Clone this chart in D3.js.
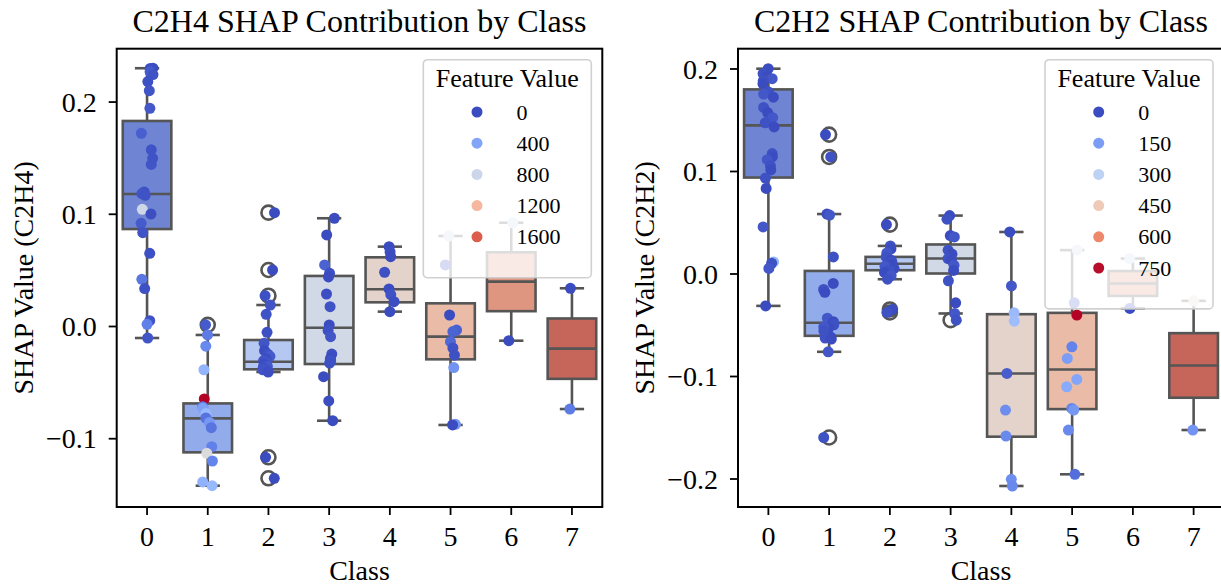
<!DOCTYPE html>
<html>
<head>
<meta charset="utf-8">
<script src="https://cdn.jsdelivr.net/npm/d3@7"></script>
<style>
  body { margin: 0; background: #fff; }
  text { font-family: "Liberation Serif", "Times New Roman", serif; fill: #000; }
</style>
</head>
<body>
<svg id="chart" width="1221" height="587"></svg>
<script>
// ---------- data ----------
const classes = ["0", "1", "2", "3", "4", "5", "6", "7"];

// C2H4: SHAP values per class and the matching C2H4 feature value of each sample
const c2h4Shap = [
  [0.2297, 0.2295, 0.2285, 0.2265, 0.224, 0.2178, 0.2097, 0.194, 0.1717, 0.157, 0.1494, 0.144, 0.1195, 0.118, 0.1165, 0.104, 0.0998, 0.0915, 0.0832, 0.0648, 0.0416, 0.0333, 0.0047, 0.0015, -0.0107],
  [0.001, -0.008, -0.018, -0.039, -0.065, -0.072, -0.0734, -0.078, -0.082, -0.086, -0.0906, -0.1075, -0.1135, -0.1203, -0.139, -0.1423],
  [0.101, 0.0499, 0.027, 0.0187, 0.0104, -0.0056, -0.0154, -0.022, -0.025, -0.027, -0.029, -0.031, -0.032, -0.034, -0.036, -0.037, -0.039, -0.041, -0.117, -0.1357],
  [0.096, 0.0811, 0.0544, 0.047, 0.0437, 0.0285, 0.0172, 0.0009, -0.004, -0.0095, -0.025, -0.029, -0.031, -0.033, -0.0452, -0.0668, -0.0844],
  [0.0707, 0.066, 0.0618, 0.0479, 0.033, 0.028, 0.0217, 0.0128],
  [0.0802, 0.0544, 0.0098, -0.0036, -0.005, -0.014, -0.0196, -0.026, -0.0371, -0.0876, -0.0882],
  [0.092, -0.0131],
  [0.0336, -0.074]
];
const c2h4Feature = [
  [0, 20, 10, 60, 30, 20, 40, 50, 80, 30, 30, 40, 20, 40, 30, 820, 10, 60, 30, 20, 180, 20, 30, 220, 40],
  [60, 200, 260, 480, 1820, 200, 380, 520, 160, 330, 170, 220, 900, 240, 470, 520],
  [0, 0, 20, 40, 30, 20, 40, 0, 20, 60, 10, 30, 40, 0, 50, 20, 30, 10, 0, 0],
  [0, 0, 100, 20, 0, 10, 30, 0, 20, 40, 10, 0, 30, 20, 0, 10, 0],
  [0, 10, 0, 20, 0, 30, 10, 0],
  [800, 0, 0, 80, 100, 120, 30, 20, 310, 330, 0],
  [780, 0],
  [0, 200]
];
const c2h4Q1 = [0.0864, -0.1126, -0.0386, -0.0339, 0.0211, -0.0297, 0.0132, -0.0471];
const c2h4Median = [0.1176, -0.0823, -0.0318, -0.0015, 0.0327, -0.0095, 0.0395, -0.0202];
const c2h4Q3 = [0.1827, -0.069, -0.0125, 0.0446, 0.0612, 0.0202, 0.0657, 0.0067];
const c2h4WhiskerLow = [-0.0107, -0.1423, -0.041, -0.0844, 0.0128, -0.0882, -0.0131, -0.074];
const c2h4WhiskerHigh = [0.2297, -0.008, 0.0187, 0.096, 0.0707, 0.0802, 0.092, 0.0336];
const c2h4Ticks = [-0.1, 0.0, 0.1, 0.2];
const c2h4LegendValues = [0, 400, 800, 1200, 1600];
const c2h4FeatureMax = 1820;

// C2H2: SHAP values per class and the matching C2H2 feature value of each sample
const c2h2Shap = [
  [0.1998, 0.195, 0.192, 0.19, 0.188, 0.185, 0.177, 0.175, 0.172, 0.162, 0.157, 0.152, 0.147, 0.143, 0.117, 0.114, 0.111, 0.105, 0.101, 0.093, 0.083, 0.0454, 0.0113, 0.010, 0.0049, -0.0316],
  [0.1355, 0.1137, 0.058, 0.057, 0.0162, -0.0097, -0.0155, -0.0183, -0.0436, -0.047, -0.050, -0.053, -0.052, -0.056, -0.062, -0.063, -0.064, -0.0764, -0.160],
  [0.0477, 0.0269, 0.024, 0.02, 0.016, 0.013, 0.011, 0.009, 0.007, 0.005, 0.003, 0.001, -0.002, -0.0056, -0.0351, -0.038],
  [0.0565, 0.053, 0.037, 0.0357, 0.0227, 0.019, 0.0146, 0.013, 0.008, 0.003, -0.0072, -0.0286, -0.039, -0.0455],
  [0.0405, -0.0121, -0.0384, -0.0465, -0.0975, -0.1332, -0.1586, -0.2008, -0.2073],
  [0.0228, -0.0286, -0.0406, -0.0715, -0.0829, -0.1033, -0.1105, -0.1316, -0.1332, -0.1527, -0.1959],
  [0.0146, -0.0341],
  [-0.0267, -0.1527]
];
const c2h2Feature = [
  [0, 10, 0, 20, 10, 0, 10, 20, 0, 10, 0, 20, 10, 0, 10, 0, 20, 10, 0, 10, 0, 20, 200, 10, 20, 0],
  [0, 10, 0, 20, 10, 0, 10, 0, 20, 0, 10, 0, 20, 10, 0, 10, 0, 20, 10],
  [0, 10, 0, 20, 10, 0, 10, 0, 20, 0, 10, 0, 20, 10, 0, 10],
  [0, 10, 0, 20, 10, 0, 10, 0, 20, 0, 10, 0, 20, 10],
  [0, 20, 220, 230, 30, 120, 110, 120, 110],
  [330, 30, 760, 100, 150, 170, 180, 100, 140, 110, 60],
  [320, 0],
  [390, 130]
];
const c2h2Q1 = [0.0936, -0.0608, 0.0032, 0.0, -0.1592, -0.1323, -0.0219, -0.1212];
const c2h2Median = [0.1445, -0.0481, 0.0095, 0.0146, -0.0975, -0.0936, -0.0098, -0.0897];
const c2h2Q3 = [0.1796, 0.0025, 0.0162, 0.0283, -0.0397, -0.0384, 0.0024, -0.0582];
const c2h2WhiskerLow = [-0.0316, -0.0764, -0.0056, -0.039, -0.2073, -0.1959, -0.0341, -0.1527];
const c2h2WhiskerHigh = [0.1998, 0.058, 0.0269, 0.0565, 0.0405, 0.0228, 0.0146, -0.0267];
const c2h2Ticks = [-0.2, -0.1, 0.0, 0.1, 0.2];
const c2h2LegendValues = [0, 150, 300, 450, 600, 750];
const c2h2FeatureMax = 760;

// ---------- colours ----------
const coolwarmStops = ["#3b4cc0", "#6282ea", "#8db0fe", "#b8d0f9", "#dddcdc", "#f5c4ac", "#f49a7b", "#dd604c", "#b40426"];
const coolwarm = d3.scaleLinear()
  .domain(coolwarmStops.map((_, i) => i / (coolwarmStops.length - 1)))
  .range(coolwarmStops)
  .interpolate(d3.interpolateRgb)
  .clamp(true);

function desaturate(c, p) {
  const h = d3.hsl(c);
  h.s *= p;
  return h.formatHex();
}
// one box colour per class, sampled inside the coolwarm map and softened
const boxPalette = classes.map((_, i) => desaturate(coolwarm((i + 1) / (classes.length + 1)), 0.75));
const lineColor = "#555555";
const lineWidth = 2.6;

const svg = d3.select("#chart");
const fmt = d3.format(".1f");
const tickFormat = v => fmt(v).replace("-", "\u2212");

function drawPanel(cfg) {
  const g = svg.append("g");
  const top = 48.7, bottom = 507;
  const x = d3.scaleBand().domain(classes).range([cfg.left, cfg.right]).padding(0);
  const y = d3.scaleLinear().domain(cfg.yDomain).range([bottom, top]);
  const step = x.bandwidth();
  const boxW = step * 0.8, capW = boxW * 0.5;
  const jitter = d3.randomLcg(cfg.seed);

  // boxes
  classes.forEach((c, i) => {
    const cx = x(c) + step / 2;
    const bg = g.append("g");
    bg.append("line").attr("x1", cx).attr("x2", cx)
      .attr("y1", y(cfg.q3[i])).attr("y2", y(cfg.whiskerHigh[i]))
      .attr("stroke", lineColor).attr("stroke-width", lineWidth);
    bg.append("line").attr("x1", cx).attr("x2", cx)
      .attr("y1", y(cfg.q1[i])).attr("y2", y(cfg.whiskerLow[i]))
      .attr("stroke", lineColor).attr("stroke-width", lineWidth);
    [cfg.whiskerHigh[i], cfg.whiskerLow[i]].forEach(v => {
      bg.append("line").attr("x1", cx - capW / 2).attr("x2", cx + capW / 2)
        .attr("y1", y(v)).attr("y2", y(v))
        .attr("stroke", lineColor).attr("stroke-width", lineWidth);
    });
    bg.append("rect")
      .attr("x", cx - boxW / 2).attr("width", boxW)
      .attr("y", y(cfg.q3[i])).attr("height", y(cfg.q1[i]) - y(cfg.q3[i]))
      .attr("fill", boxPalette[i]).attr("stroke", lineColor).attr("stroke-width", lineWidth);
    bg.append("line").attr("x1", cx - boxW / 2).attr("x2", cx + boxW / 2)
      .attr("y1", y(cfg.median[i])).attr("y2", y(cfg.median[i]))
      .attr("stroke", lineColor).attr("stroke-width", lineWidth);
    // fliers: samples beyond the whiskers
    cfg.shap[i].filter(v => v > cfg.whiskerHigh[i] + 1e-9 || v < cfg.whiskerLow[i] - 1e-9)
      .forEach(v => {
        bg.append("circle").attr("cx", cx).attr("cy", y(v)).attr("r", 7)
          .attr("fill", "none").attr("stroke", lineColor).attr("stroke-width", lineWidth);
      });
  });

  // strip of samples coloured by feature value
  classes.forEach((c, i) => {
    const cx = x(c) + step / 2;
    cfg.shap[i].forEach((v, j) => {
      const dx = (jitter() * 2 - 1) * 0.1 * step;
      g.append("circle")
        .attr("cx", cx + dx).attr("cy", y(v)).attr("r", 5.5)
        .attr("fill", coolwarm(cfg.feature[i][j] / cfg.featureMax));
    });
  });

  // axes
  const xAxis = g.append("g").attr("transform", `translate(0,${bottom})`)
    .call(d3.axisBottom(x).tickSize(8).tickSizeOuter(0).tickPadding(6));
  xAxis.select(".domain").remove();
  xAxis.selectAll(".tick line").attr("stroke", "#000").attr("stroke-width", 1.8);
  xAxis.selectAll(".tick text").attr("font-size", 28).attr("dy", null).attr("y", 39)
    .attr("font-family", "Liberation Serif");

  const yAxis = g.append("g").attr("transform", `translate(${cfg.left},0)`)
    .call(d3.axisLeft(y).tickValues(cfg.ticks).tickFormat(tickFormat).tickSize(8).tickPadding(12));
  yAxis.select(".domain").remove();
  yAxis.selectAll(".tick line").attr("stroke", "#000").attr("stroke-width", 1.8);
  yAxis.selectAll(".tick text").attr("font-size", 28).attr("dy", "0.34em")
    .attr("font-family", "Liberation Serif");

  g.append("rect").attr("x", cfg.left).attr("y", top)
    .attr("width", cfg.right - cfg.left).attr("height", bottom - top)
    .attr("fill", "none").attr("stroke", "#000").attr("stroke-width", 2);

  // titles and labels
  const mid = (cfg.left + cfg.right) / 2;
  g.append("text").attr("x", mid).attr("y", 32).attr("text-anchor", "middle")
    .attr("font-size", 32).text(cfg.title);
  g.append("text").attr("x", mid).attr("y", 580).attr("text-anchor", "middle")
    .attr("font-size", 28).text("Class");
  g.append("text")
    .attr("transform", `translate(${cfg.left - 84},${(top + bottom) / 2}) rotate(-90)`)
    .attr("text-anchor", "middle").attr("font-size", 28).text(cfg.yLabel);

  // legend
  const lw = 168, lh = 62 + cfg.legendValues.length * 31.2;
  const lx = cfg.right - 11 - lw, ly = top + 11;
  const lg = g.append("g").attr("transform", `translate(${lx},${ly})`);
  lg.append("rect").attr("width", lw).attr("height", lh).attr("rx", 4)
    .attr("fill", "#fff").attr("fill-opacity", 0.8)
    .attr("stroke", "#cccccc").attr("stroke-opacity", 0.9).attr("stroke-width", 1.6);
  lg.append("text").attr("x", lw / 2).attr("y", 27).attr("text-anchor", "middle")
    .attr("font-size", 26).text("Feature Value");
  cfg.legendValues.forEach((v, k) => {
    const ry = 52.3 + k * 31.2;
    lg.append("circle").attr("cx", 53.7).attr("cy", ry).attr("r", 5.5)
      .attr("fill", coolwarm(v / cfg.featureMax));
    lg.append("text").attr("x", 93.3).attr("y", ry).attr("dy", "0.35em")
      .attr("font-size", 22).text(v);
  });
}

drawPanel({
  left: 116.7, right: 602.3, yDomain: [-0.1613, 0.2471],
  shap: c2h4Shap, feature: c2h4Feature, featureMax: c2h4FeatureMax,
  q1: c2h4Q1, median: c2h4Median, q3: c2h4Q3,
  whiskerLow: c2h4WhiskerLow, whiskerHigh: c2h4WhiskerHigh,
  ticks: c2h4Ticks, legendValues: c2h4LegendValues,
  title: "C2H4 SHAP Contribution by Class", yLabel: "SHAP Value (C2H4)", seed: 0.31
});
drawPanel({
  left: 738, right: 1224, yDomain: [-0.2278, 0.2193],
  shap: c2h2Shap, feature: c2h2Feature, featureMax: c2h2FeatureMax,
  q1: c2h2Q1, median: c2h2Median, q3: c2h2Q3,
  whiskerLow: c2h2WhiskerLow, whiskerHigh: c2h2WhiskerHigh,
  ticks: c2h2Ticks, legendValues: c2h2LegendValues,
  title: "C2H2 SHAP Contribution by Class", yLabel: "SHAP Value (C2H2)", seed: 0.57
});
</script>
</body>
</html>
